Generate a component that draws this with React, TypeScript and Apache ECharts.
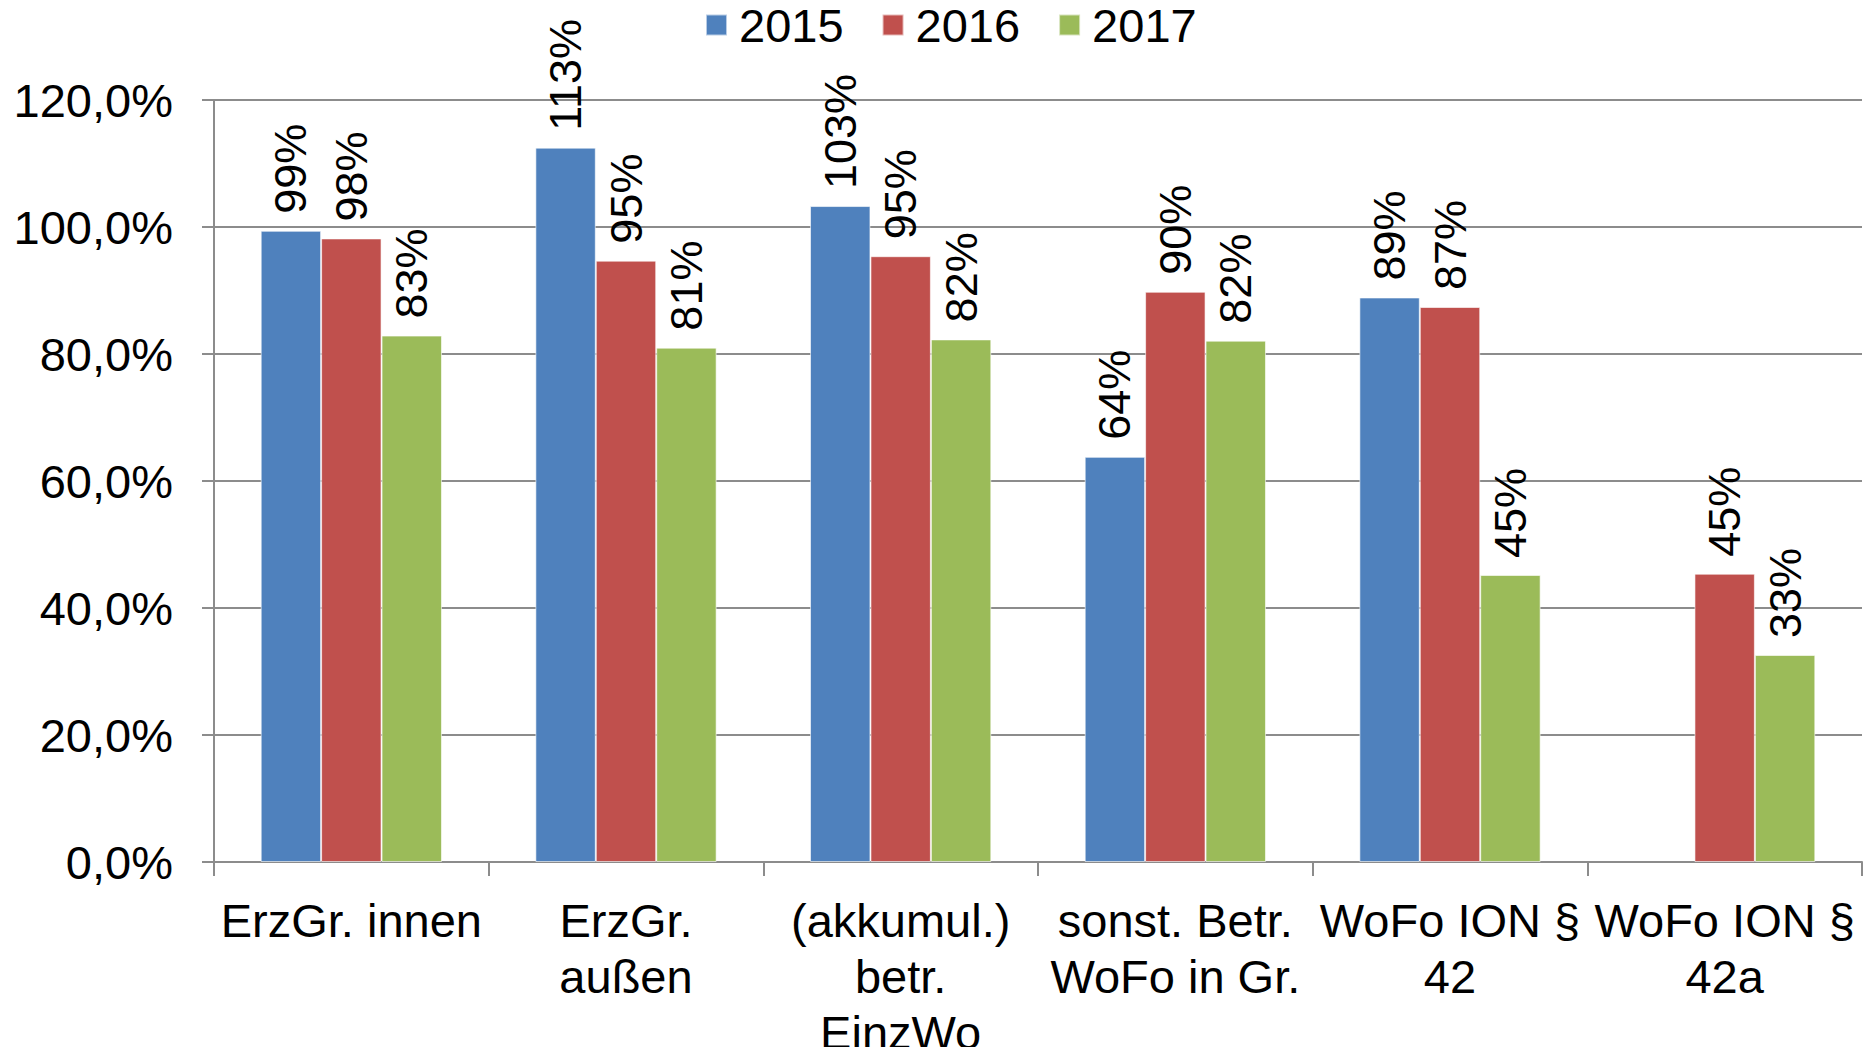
import React, { useEffect, useRef } from "react";
import * as echarts from "echarts";

const categories = [
  "ErzGr. innen",
  "ErzGr.\naußen",
  "(akkumul.)\nbetr.\nEinzWo",
  "sonst. Betr.\nWoFo in Gr.",
  "WoFo ION §\n42",
  "WoFo ION §\n42a",
];
const seriesNames = ["2015", "2016", "2017"];
const values2015: (number | null)[] = [99.4, 112.5, 103.3, 63.8, 88.9, null];
const values2016: (number | null)[] = [98.2, 94.7, 95.4, 89.8, 87.4, 45.4];
const values2017: (number | null)[] = [82.9, 81.0, 82.3, 82.1, 45.2, 32.6];
const colors = ["#4F81BD", "#C0504D", "#9BBB59"];
const yTicks = { min: 0, max: 120, interval: 20 };

const FONT = "'Liberation Sans', Arial, sans-serif";

export default function App() {
  const ref = useRef<HTMLDivElement>(null);
  useEffect(() => {
    if (!ref.current) return;
    const chart = echarts.init(ref.current, null, { renderer: "svg" });
    const allValues = [values2015, values2016, values2017];
    chart.setOption({
      animation: false,
      textStyle: { fontFamily: FONT },
      legend: {
        left: 700,
        top: -5,
        itemWidth: 21,
        itemHeight: 21,
        itemGap: 38,
        icon: "rect",
        data: seriesNames,
        textStyle: {
          fontFamily: FONT,
          fontSize: 47,
          color: "#000",
          lineHeight: 50,
          padding: [0, 0, 0, 7],
        },
      },
      grid: {
        left: 214,
        right: 4,
        top: 100,
        bottom: 185,
        containLabel: false,
        outerBoundsMode: "none",
      },
      xAxis: {
        type: "category",
        data: categories,
        axisLine: { show: true, lineStyle: { color: "#8c8c8c", width: 2 } },
        axisTick: {
          show: true,
          alignWithLabel: false,
          length: 14,
          lineStyle: { color: "#8c8c8c", width: 2 },
        },
        axisLabel: {
          interval: 0,
          margin: 30,
          color: "#000",
          fontFamily: FONT,
          fontSize: 47,
          lineHeight: 56,
          align: "center",
        },
      },
      yAxis: {
        type: "value",
        min: yTicks.min,
        max: yTicks.max,
        interval: yTicks.interval,
        axisLine: { show: true, lineStyle: { color: "#8c8c8c", width: 2 } },
        axisTick: { show: true, length: 12, lineStyle: { color: "#8c8c8c", width: 2 } },
        splitLine: { show: true, lineStyle: { color: "#8c8c8c", width: 2 } },
        axisLabel: {
          margin: 41,
          color: "#000",
          fontFamily: FONT,
          fontSize: 47,
          formatter: (v: number) => v.toFixed(1).replace(".", ",") + "%",
        },
      },
      series: seriesNames.map((name, i) => ({
        name,
        type: "bar",
        data: allValues[i],
        barGap: "0%",
        barCategoryGap: "34%",
        itemStyle: { color: colors[i], borderColor: "rgba(255,255,255,0.6)", borderWidth: 1 },
        label: {
          show: true,
          position: "top",
          rotate: 90,
          align: "left",
          verticalAlign: "middle",
          distance: 17,
          color: "#000",
          fontFamily: FONT,
          fontSize: 45,
          formatter: (p: any) => (p.value == null ? "" : Math.round(p.value) + "%"),
        },
      })),
    });
    return () => chart.dispose();
  }, []);
  return (
    <div
      ref={ref}
      style={{ position: "fixed", left: 0, top: 0, width: 1866, height: 1047, background: "#fff" }}
    />
  );
}
